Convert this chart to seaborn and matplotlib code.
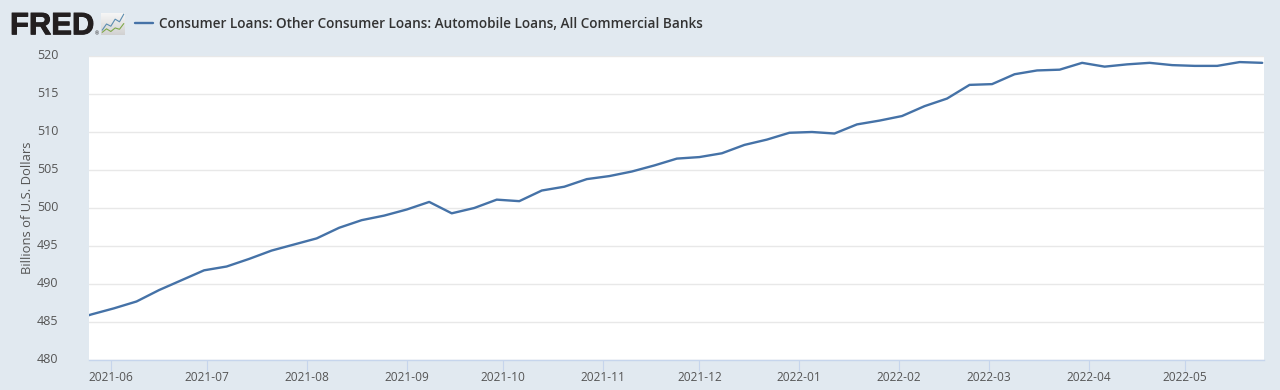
import matplotlib
matplotlib.use("Agg")
import matplotlib.pyplot as plt
import matplotlib.dates as mdates
import matplotlib.patheffects as pe
import numpy as np
import pandas as pd
import seaborn as sns

SERIES = "Consumer Loans: Other Consumer Loans: Automobile Loans, All Commercial Banks"
Y_LABEL = "Billions of U.S. Dollars"
start_date = "2021-05-19"
end_date = "2022-05-25"
values = [485.1, 486.0, 486.8, 487.7, 489.2, 490.5, 491.8, 492.3, 493.3, 494.4, 495.2,
          496.0, 497.4, 498.4, 499.0, 499.8, 500.8, 499.3, 500.0, 501.1, 500.9,
          502.3, 502.8, 503.8, 504.2, 504.8, 505.6, 506.5, 506.7, 507.2, 508.3,
          509.0, 509.9, 510.0, 509.8, 511.0, 511.5, 512.1, 513.4, 514.4, 516.2,
          516.3, 517.6, 518.1, 518.2, 519.1, 518.6, 518.9, 519.1, 518.8, 518.7,
          518.7, 519.2, 519.1]
y_ticks = [480, 485, 490, 495, 500, 505, 510, 515, 520]
x_ticks = ["2021-06", "2021-07", "2021-08", "2021-09", "2021-10", "2021-11",
           "2021-12", "2022-01", "2022-02", "2022-03", "2022-04", "2022-05"]
icon_blue = [0.22, 0.5, 0.4, 0.72, 0.6, 0.95]
icon_green = [0.12, 0.28, 0.16, 0.32, 0.26, 0.52]

BG = "#e1e9f0"
LINE = "#4572a7"
TXT = "#555555"
TITLE_C = "#333333"
AXC = "#c6d5ec"

sns.set_theme(style="white")
plt.rcParams["font.family"] = ["Open Sans", "DejaVu Sans"]

df = pd.DataFrame({"date": pd.date_range(start_date, end_date, freq="7D"), "value": values})

W, H = 1280, 390
fig = plt.figure(figsize=(W / 100, H / 100), dpi=100, facecolor=BG)
L, R, T, B = 89, 1263.5, 56, 360
ax = fig.add_axes([L / W, 1 - B / H, (R - L) / W, (B - T) / H], facecolor="white")

sns.lineplot(data=df, x="date", y="value", color=LINE, lw=1.7, ax=ax, errorbar=None, zorder=3)

x0 = mdates.date2num(pd.Timestamp("2021-05-26"))
ax.set_xlim(x0 - 0.78, x0 + 364.4)
ax.set_ylim(y_ticks[0], y_ticks[-1])
ax.set_yticks(y_ticks)
ax.set_xticks([mdates.date2num(pd.Timestamp(t + "-01")) for t in x_ticks])
ax.set_xticklabels(x_ticks)
ax.set_xlabel("")
ax.set_ylabel(Y_LABEL, fontsize=9.4, color=TXT, labelpad=0)
ax.yaxis.set_label_coords((34 - L) / (R - L), 0.5)
ax.grid(axis="y", color="#e8e8e8", lw=1)
ax.grid(axis="x", visible=False)
ax.set_axisbelow(True)
for s in ["top", "left", "right"]:
    ax.spines[s].set_visible(False)
ax.spines["bottom"].set_color(AXC)
ax.spines["bottom"].set_linewidth(1)
ax.tick_params(axis="x", bottom=True, length=8, width=0.8, color=AXC,
               labelsize=8.6, labelcolor=TXT, pad=0)
ax.tick_params(axis="y", left=False, labelsize=9, labelcolor=TXT, pad=16)
shift = matplotlib.transforms.ScaledTranslation(0, 1.5 / 100, fig.dpi_scale_trans)
for lab in ax.get_yticklabels():
    lab.set_transform(lab.get_transform() + shift)

# Header
fig.text(10 / W, 1 - 34.3 / H, "FRED", fontsize=22.3, fontweight="bold", color="#231f20",
         family=["Liberation Sans", "DejaVu Sans"], va="baseline", ha="left",
         path_effects=[pe.withStroke(linewidth=0.7, foreground="#231f20")])
fig.text(94.5 / W, 1 - 34 / H, "®", fontsize=3.5, color="#231f20", va="center", ha="left")
icon = fig.add_axes([101 / W, 1 - 35 / H, 24 / W, 22 / H])
icon.imshow(np.linspace(0.96, 0.82, 22).reshape(-1, 1), cmap="gray", vmin=0, vmax=1,
            extent=(0, 1, 0, 1), aspect="auto")
icon.set_xlim(0, 1); icon.set_ylim(0, 1); icon.axis("off")
xs = np.linspace(0.05, 0.95, len(icon_blue))
icon.plot(xs, icon_blue, color="#5b8db0", lw=0.8)
icon.plot(xs, icon_green, color="#7fa84a", lw=0.8)
fig.add_artist(plt.Line2D([135 / W, 153 / W], [1 - 23 / H] * 2, color=LINE, lw=1.7))
fig.text(159 / W, 1 - 24 / H, SERIES, fontsize=9.82, fontweight="semibold", color=TITLE_C,
         va="center", ha="left")

fig.savefig("out.png", dpi=100, facecolor=BG)
